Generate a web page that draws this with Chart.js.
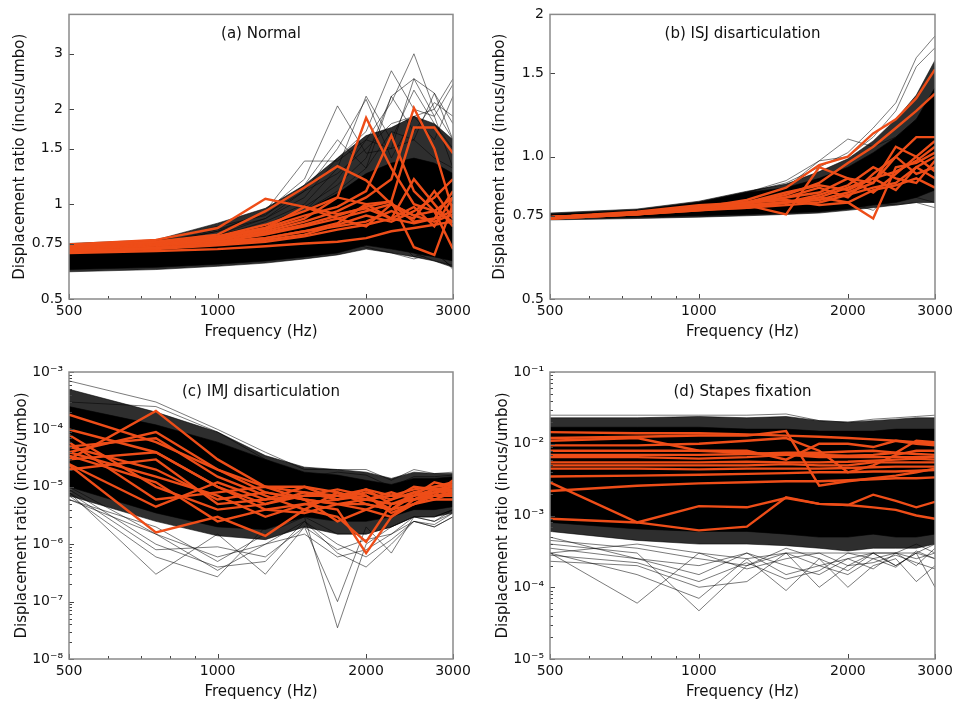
<!DOCTYPE html>
<html>
<head>
<meta charset="utf-8">
<script src="https://cdn.jsdelivr.net/npm/chart.js@4.4.0/dist/chart.umd.min.js"></script>
<style>
    body { margin: 0; background: #fff; width: 958px; height: 702px; position: relative; overflow: hidden; }
    canvas { position: absolute; }
</style>
</head>
<body>
<canvas id="graficoA" width="479" height="351" style="left:0;top:0"></canvas>
<canvas id="graficoB" width="479" height="351" style="left:479px;top:0"></canvas>
<canvas id="graficoC" width="479" height="351" style="left:0;top:351px"></canvas>
<canvas id="graficoD" width="479" height="351" style="left:479px;top:351px"></canvas>
<script>
// frequencies (Hz) shared by every curve
var freqs = [500, 750, 1000, 1250, 1500, 1750, 2000, 2250, 2500, 2750, 3000];
var xTicks = [500, 1000, 2000, 3000];
var xMinorTicks = [600, 700, 800, 900];

// ---- (a) Normal
var aTicks = [0.5, 0.75, 1, 1.5, 2, 3];
var aTickLabels = ['0.5', '0.75', '1', '1.5', '2', '3'];
var aOuterHi = [0.75, 0.77, 0.87, 0.97, 1.15, 1.4, 1.65, 1.75, 1.9, 1.8, 1.6];
var aOuterLo = [0.61, 0.62, 0.635, 0.65, 0.67, 0.69, 0.72, 0.7, 0.68, 0.66, 0.63];
var aCoreHi = [0.74, 0.76, 0.80, 0.86, 0.95, 1.08, 1.25, 1.35, 1.4, 1.35, 1.25];
var aCoreLo = [0.62, 0.63, 0.645, 0.66, 0.68, 0.70, 0.74, 0.72, 0.70, 0.68, 0.66];
var aBlack = [
    [0.72, 0.74, 0.80, 0.95, 1.2, 2.05, 1.45, 1.5, 1.6, 1.4, 1.3],
    [0.70, 0.72, 0.78, 0.85, 0.95, 1.2, 1.6, 2.1, 3.0, 2.0, 1.6],
    [0.73, 0.75, 0.82, 0.9, 1.05, 1.4, 1.7, 2.65, 2.0, 1.9, 2.4],
    [0.72, 0.74, 0.79, 0.88, 1.0, 1.3, 2.2, 1.6, 2.3, 1.8, 1.5],
    [0.71, 0.73, 0.8, 0.9, 1.1, 1.25, 1.5, 1.8, 1.9, 2.0, 2.5],
    [0.73, 0.75, 0.82, 0.95, 1.37, 1.37, 1.6, 1.5, 2.5, 2.25, 1.6],
    [0.69, 0.7, 0.72, 0.75, 0.8, 0.85, 0.9, 0.8, 0.68, 0.72, 0.62],
    [0.65, 0.66, 0.68, 0.7, 0.72, 0.74, 0.8, 0.75, 0.7, 0.66, 0.64],
    [0.74, 0.76, 0.85, 0.92, 1.15, 1.6, 1.3, 2.2, 1.7, 2.1, 1.9],
    [0.72, 0.75, 0.83, 0.93, 1.1, 1.5, 2.15, 1.4, 1.9, 1.6, 2.2],
    [0.71, 0.73, 0.78, 0.86, 0.98, 1.15, 1.4, 2.2, 2.5, 1.9, 1.3],
    [0.7, 0.72, 0.77, 0.84, 0.95, 1.1, 1.3, 1.7, 1.6, 2.25, 1.8],
    [0.66, 0.67, 0.7, 0.72, 0.75, 0.77, 0.73, 0.7, 0.67, 0.7, 0.63]
];
var aOrange = [
    [0.745, 0.77, 0.84, 1.04, 0.98, 0.93, 0.97, 0.9, 0.87, 0.9, 0.95],
    [0.74, 0.76, 0.80, 0.95, 1.13, 1.32, 1.19, 1.0, 0.92, 0.88, 0.93],
    [0.735, 0.755, 0.79, 0.86, 0.95, 1.05, 1.88, 1.3, 1.0, 0.95, 1.05],
    [0.73, 0.75, 0.78, 0.84, 0.92, 0.98, 1.1, 1.65, 1.1, 0.95, 0.88],
    [0.725, 0.745, 0.77, 0.82, 0.88, 0.95, 1.05, 1.2, 2.02, 1.5, 0.95],
    [0.72, 0.74, 0.77, 0.81, 0.86, 0.92, 0.98, 1.02, 1.75, 1.75, 1.45],
    [0.73, 0.75, 0.78, 0.83, 0.9, 1.05, 1.0, 1.02, 0.73, 0.69, 1.0],
    [0.72, 0.74, 0.76, 0.80, 0.85, 0.9, 0.95, 1.0, 0.92, 0.95, 0.72],
    [0.70, 0.71, 0.72, 0.735, 0.75, 0.76, 0.78, 0.82, 0.84, 0.86, 0.88],
    [0.71, 0.725, 0.745, 0.77, 0.80, 0.86, 0.92, 0.88, 0.95, 1.05, 1.2],
    [0.74, 0.76, 0.79, 0.84, 0.98, 0.9, 0.85, 1.0, 0.88, 0.9, 1.1],
    [0.725, 0.74, 0.76, 0.78, 0.82, 0.87, 1.0, 0.9, 1.2, 1.0, 0.85],
    [0.715, 0.73, 0.75, 0.78, 0.82, 0.85, 0.88, 0.95, 0.9, 1.1, 0.9],
    [0.705, 0.72, 0.74, 0.76, 0.79, 0.83, 0.86, 0.9, 0.98, 0.85, 1.05]
];

// ---- (b) ISJ disarticulation
var bTicks = [0.5, 0.75, 1, 1.5, 2];
var bTickLabels = ['0.5', '0.75', '1.0', '1.5', '2'];
var bOuterHi = [0.76, 0.775, 0.805, 0.845, 0.875, 0.93, 0.99, 1.08, 1.2, 1.35, 1.6];
var bOuterLo = [0.735, 0.74, 0.745, 0.75, 0.755, 0.76, 0.77, 0.78, 0.79, 0.80, 0.80];
var bCoreHi = [0.755, 0.77, 0.8, 0.84, 0.86, 0.9, 0.95, 1.02, 1.1, 1.2, 1.4];
var bCoreLo = [0.74, 0.745, 0.75, 0.755, 0.76, 0.765, 0.775, 0.79, 0.8, 0.82, 0.85];
var bBlack = [
    [0.755, 0.77, 0.8, 0.84, 0.88, 0.95, 1.02, 1.15, 1.3, 1.62, 1.8],
    [0.75, 0.765, 0.79, 0.82, 0.86, 0.98, 1.09, 1.05, 1.1, 1.2, 1.3],
    [0.75, 0.765, 0.8, 0.84, 0.89, 0.98, 1.0, 1.1, 1.25, 1.55, 1.7],
    [0.74, 0.75, 0.76, 0.77, 0.78, 0.79, 0.78, 0.8, 0.79, 0.8, 0.78],
    [0.745, 0.755, 0.77, 0.78, 0.8, 0.82, 0.8, 0.77, 0.85, 0.82, 0.8]
];
var bOrange = [
    [0.745, 0.76, 0.78, 0.81, 0.86, 0.96, 1.0, 1.12, 1.2, 1.33, 1.53],
    [0.745, 0.76, 0.785, 0.8, 0.83, 0.88, 0.97, 1.05, 1.15, 1.25, 1.36],
    [0.74, 0.755, 0.78, 0.79, 0.755, 0.95, 0.9, 0.88, 1.0, 1.1, 1.1],
    [0.745, 0.76, 0.775, 0.79, 0.8, 0.82, 0.8, 0.74, 0.95, 0.97, 1.02],
    [0.74, 0.755, 0.77, 0.785, 0.8, 0.82, 0.86, 0.9, 0.93, 0.98, 1.05],
    [0.745, 0.76, 0.78, 0.8, 0.82, 0.86, 0.82, 0.92, 1.0, 0.92, 0.95],
    [0.745, 0.755, 0.775, 0.78, 0.79, 0.8, 0.83, 0.86, 0.88, 0.95, 0.9],
    [0.74, 0.755, 0.77, 0.78, 0.8, 0.83, 0.87, 0.95, 0.9, 0.88, 0.98],
    [0.745, 0.765, 0.79, 0.8, 0.81, 0.79, 0.8, 0.85, 0.87, 0.9, 0.86],
    [0.745, 0.76, 0.78, 0.795, 0.82, 0.84, 0.9, 0.84, 0.92, 1.0, 1.08],
    [0.745, 0.76, 0.775, 0.79, 0.8, 0.81, 0.84, 0.88, 1.05, 1.0, 0.93],
    [0.74, 0.76, 0.78, 0.8, 0.84, 0.87, 0.85, 0.9, 0.85, 0.95, 1.0]
];

// ---- (c) IMJ disarticulation
var cTicks = [1e-8, 1e-7, 1e-6, 1e-5, 1e-4, 1e-3];
var cOuterHi = [5e-4, 2e-4, 9e-5, 3.5e-5, 2.2e-5, 2e-5, 1.8e-5, 1.4e-5, 1.8e-5, 1.7e-5, 1.7e-5];
var cOuterLo = [7e-6, 2.5e-6, 1.4e-6, 1.2e-6, 2e-6, 1.5e-6, 1.5e-6, 2e-6, 3e-6, 3e-6, 3.5e-6];
var cCoreHi = [2.5e-4, 1.2e-4, 6e-5, 3e-5, 1.8e-5, 1.6e-5, 1.3e-5, 1.1e-5, 1.4e-5, 1.4e-5, 1.5e-5];
var cCoreLo = [1e-5, 3.5e-6, 2e-6, 1.8e-6, 3e-6, 2.5e-6, 2.5e-6, 3e-6, 4e-6, 4e-6, 4.5e-6];
var cBlack = [
    [6e-6, 2e-6, 5e-7, 1.5e-6, 3e-6, 1.5e-6, 1.5e-6, 2e-6, 3e-6, 3e-6, 4e-6],
    [8e-6, 3e-7, 1.5e-6, 3e-7, 2e-6, 1e-7, 2e-6, 7e-7, 3e-6, 2.5e-6, 4e-6],
    [7e-6, 6e-7, 2.7e-7, 2e-6, 3e-6, 3.5e-8, 1e-6, 2e-6, 3e-6, 3e-6, 4e-6],
    [9e-6, 1e-6, 4e-7, 5e-7, 2.5e-6, 7e-7, 4e-7, 1e-6, 2.5e-6, 2.2e-6, 3.5e-6],
    [7e-4, 3e-4, 1e-4, 4e-5, 2e-5, 2e-5, 2e-5, 1.3e-5, 2e-5, 1.7e-5, 1.8e-5],
    [3e-4, 2.5e-4, 9e-5, 3e-5, 1.5e-5, 1.8e-5, 1.6e-5, 1e-5, 1.5e-5, 1.5e-5, 1.6e-5],
    [1e-5, 1.5e-6, 6e-7, 1e-6, 1.5e-6, 6e-7, 8e-7, 1.5e-6, 2.5e-6, 2e-6, 3e-6],
    [8e-6, 8e-7, 9e-7, 6e-7, 2e-6, 8e-7, 1.2e-6, 1.5e-6, 3e-6, 2.5e-6, 3.5e-6],
    [6e-6, 1.5e-6, 3.5e-7, 1e-6, 2.5e-6, 1e-6, 6e-7, 1.2e-6, 2.5e-6, 2e-6, 3e-6]
];
var cOrange = [
    [1.8e-4, 6e-5, 2e-5, 1e-5, 8e-6, 7e-6, 6e-6, 5e-6, 7e-6, 8e-6, 9e-6],
    [3e-5, 2.1e-4, 3e-5, 1e-5, 1e-5, 6e-6, 7e-6, 4e-6, 8e-6, 1e-5, 1.2e-5],
    [2.4e-5, 1.6e-6, 3e-6, 1.4e-6, 4e-6, 3e-6, 1.1e-6, 5e-6, 6e-6, 8e-6, 1e-5],
    [4e-5, 9e-5, 2e-5, 8e-6, 6e-6, 5e-6, 4e-6, 3e-6, 6e-6, 7e-6, 8e-6],
    [5e-5, 7e-5, 1.5e-5, 7e-6, 4e-6, 8e-6, 5e-6, 4e-6, 7e-6, 9e-6, 1e-5],
    [1e-4, 4e-5, 1e-5, 5e-6, 8e-6, 6e-6, 9e-6, 5e-6, 6e-6, 7e-6, 7e-6],
    [2e-5, 3e-5, 5e-6, 6e-6, 1e-5, 8e-6, 6e-6, 7e-6, 9e-6, 1e-5, 1.1e-5],
    [3.5e-5, 1.2e-5, 2.5e-6, 4e-6, 5e-6, 4e-6, 7e-7, 3e-6, 5e-6, 6e-6, 6e-6],
    [6e-5, 6e-6, 8e-6, 1e-5, 6e-6, 2.5e-6, 4e-6, 6e-6, 8e-6, 6e-6, 8e-6],
    [2.5e-5, 4.5e-6, 1.2e-5, 6e-6, 7e-6, 9e-6, 7e-6, 3.5e-6, 5e-6, 7e-6, 1.3e-5],
    [4e-5, 1.5e-5, 7e-6, 3e-6, 5e-6, 6e-6, 8e-6, 6e-6, 1e-5, 9e-6, 7e-6],
    [3e-5, 4e-5, 1e-5, 4e-6, 3.5e-6, 5e-6, 5e-6, 4e-6, 5e-6, 8e-6, 9e-6],
    [5e-5, 2e-5, 6e-6, 8e-6, 6e-6, 5e-6, 6e-6, 8e-6, 6e-6, 9e-6, 8e-6],
    [8e-5, 1e-5, 4e-6, 5e-6, 7e-6, 7e-6, 9e-6, 7e-6, 7e-6, 1.2e-5, 1e-5]
];

// ---- (d) Stapes fixation
var dTicks = [1e-5, 1e-4, 1e-3, 1e-2, 1e-1];
var dOuterHi = [2.3e-2, 2.3e-2, 2.4e-2, 2.3e-2, 2.4e-2, 2.1e-2, 2e-2, 2.1e-2, 2.2e-2, 2.3e-2, 2.3e-2];
var dOuterLo = [6e-4, 4.5e-4, 4e-4, 4e-4, 3.8e-4, 3.5e-4, 3.2e-4, 3.5e-4, 3.5e-4, 3.5e-4, 4e-4];
var dCoreHi = [1.7e-2, 1.7e-2, 1.7e-2, 1.6e-2, 1.6e-2, 1.5e-2, 1.5e-2, 1.5e-2, 1.6e-2, 1.6e-2, 1.6e-2];
var dCoreLo = [8e-4, 6.5e-4, 6e-4, 6e-4, 5.5e-4, 5e-4, 5e-4, 5.5e-4, 5e-4, 5e-4, 5.5e-4];
var dBlack = [
    [3e-4, 6e-5, 3e-4, 2.5e-4, 3e-4, 2e-4, 2.5e-4, 3e-4, 3e-4, 4e-4, 3e-4],
    [4e-4, 3e-4, 4.7e-5, 2e-4, 3e-4, 3e-4, 3e-4, 3e-4, 3e-4, 3e-4, 4e-4],
    [3e-4, 1.5e-4, 7e-5, 2.5e-4, 9e-5, 2.5e-4, 1e-4, 2e-4, 2.5e-4, 1.2e-4, 2e-4],
    [2.3e-4, 2e-4, 1e-4, 1.2e-4, 3e-4, 1e-4, 2e-4, 3e-4, 2e-4, 3e-4, 1e-4],
    [5e-4, 2.5e-4, 2e-4, 3e-4, 1.5e-4, 2e-4, 1.5e-4, 2.5e-4, 3e-4, 2.5e-4, 3e-4],
    [2.5e-2, 2.5e-2, 2.5e-2, 2.5e-2, 2.6e-2, 2.1e-2, 2e-2, 2.2e-2, 2.3e-2, 2.4e-2, 2.5e-2],
    [3.5e-4, 2.5e-4, 1.5e-4, 3e-4, 2e-4, 1.5e-4, 2.5e-4, 1.8e-4, 3e-4, 2e-4, 3.5e-4],
    [4.5e-4, 3.5e-4, 2.5e-4, 2e-4, 3.5e-4, 2.5e-4, 1.7e-4, 3e-4, 2e-4, 3e-4, 2.5e-4],
    [3e-4, 4e-4, 3e-4, 1.8e-4, 2.5e-4, 3e-4, 2e-4, 2.2e-4, 2.8e-4, 2.2e-4, 1.8e-4],
    [2.8e-4, 2.2e-4, 1.2e-4, 2.2e-4, 1.3e-4, 1.7e-4, 3e-4, 2.5e-4, 1.9e-4, 3.2e-4, 2.5e-4]
];
var dOrange = [
    [2.9e-3, 8e-4, 6.2e-4, 7e-4, 1.8e-3, 1.45e-3, 1.4e-3, 1.3e-3, 1.2e-3, 1.0e-3, 9e-4],
    [9e-4, 8e-4, 1.35e-3, 1.3e-3, 1.75e-3, 1.45e-3, 1.4e-3, 1.95e-3, 1.6e-3, 1.3e-3, 1.55e-3],
    [2.2e-3, 2.6e-3, 2.8e-3, 2.9e-3, 3e-3, 3e-3, 3.1e-3, 3.2e-3, 3.3e-3, 3.3e-3, 3.4e-3],
    [3.5e-3, 3.6e-3, 3.7e-3, 3.8e-3, 3.9e-3, 4e-3, 4e-3, 4.1e-3, 4.1e-3, 4.2e-3, 4.3e-3],
    [1.2e-2, 1.25e-2, 1.3e-2, 1.3e-2, 1.5e-2, 2.6e-3, 3e-3, 3.3e-3, 3.6e-3, 4e-3, 4.5e-3],
    [1.45e-2, 1.4e-2, 1.4e-2, 1.35e-2, 1.3e-2, 1.25e-2, 1.2e-2, 1.15e-2, 1.1e-2, 1.05e-2, 1.0e-2],
    [1.1e-2, 1.2e-2, 8e-3, 7.5e-3, 7e-3, 6.5e-3, 6.5e-3, 6.5e-3, 6.5e-3, 6.5e-3, 6.5e-3],
    [8e-3, 8e-3, 8e-3, 8e-3, 6e-3, 1e-2, 1e-2, 9e-3, 1.1e-2, 1e-2, 9.5e-3],
    [6.5e-3, 6.5e-3, 6.2e-3, 6.5e-3, 7e-3, 7e-3, 6.8e-3, 7e-3, 7.5e-3, 1.1e-2, 1.05e-2],
    [5.5e-3, 5.5e-3, 5.5e-3, 5.6e-3, 5.5e-3, 5.5e-3, 5.6e-3, 5.8e-3, 6e-3, 6.2e-3, 6e-3],
    [5e-3, 5e-3, 5e-3, 5e-3, 5.2e-3, 5e-3, 5e-3, 5.5e-3, 5.5e-3, 5.5e-3, 5.5e-3],
    [4.5e-3, 4.5e-3, 4.4e-3, 4.5e-3, 4.5e-3, 4.5e-3, 4.6e-3, 4.7e-3, 4.8e-3, 4.8e-3, 4.8e-3],
    [9.5e-3, 9.5e-3, 1e-2, 1.1e-2, 1.2e-2, 8e-3, 4e-3, 5e-3, 7e-3, 8e-3, 8e-3],
    [7e-3, 7e-3, 7e-3, 7.2e-3, 7.5e-3, 7.5e-3, 7.8e-3, 8e-3, 7.5e-3, 7.2e-3, 7e-3]
];

var FONTE = 'DejaVu Sans, sans-serif';
var LARANJA = '#ee4d18';

function pontos(valores) {
    return valores.map(function (v, i) { return { x: freqs[i], y: v }; });
}

function minorDecades(ticks) {
    var lista = [];
    for (var i = 0; i < ticks.length - 1; i++) {
        for (var k = 2; k <= 9; k++) lista.push(ticks[i] * k);
    }
    return lista;
}

var SUP = { '-': '\u207B', '0': '\u2070', '1': '\u00B9', '2': '\u00B2', '3': '\u00B3', '4': '\u2074', '5': '\u2075', '6': '\u2076', '7': '\u2077', '8': '\u2078', '9': '\u2079' };
function potencia(v) {
    var e = String(Math.round(Math.log10(v)));
    return '10' + e.split('').map(function (c) { return SUP[c]; }).join('');
}

// frame, inward ticks and panel title inside the plot area
var moldura = {
    id: 'moldura',
    afterDraw: function (chart) {
        var o = chart.options.plugins.moldura;
        var a = chart.chartArea;
        var ctx = chart.ctx;
        var sx = chart.scales.x, sy = chart.scales.y;
        ctx.save();
        ctx.strokeStyle = '#444';
        ctx.lineWidth = 1;
        xTicks.forEach(function (v) {
            var px = Math.round(sx.getPixelForValue(v)) + 0.5;
            ctx.beginPath(); ctx.moveTo(px, a.bottom); ctx.lineTo(px, a.bottom - 5); ctx.stroke();
        });
        xMinorTicks.forEach(function (v) {
            var px = Math.round(sx.getPixelForValue(v)) + 0.5;
            ctx.beginPath(); ctx.moveTo(px, a.bottom); ctx.lineTo(px, a.bottom - 3); ctx.stroke();
        });
        o.yTicks.forEach(function (v) {
            var py = Math.round(sy.getPixelForValue(v)) + 0.5;
            ctx.beginPath(); ctx.moveTo(a.left, py); ctx.lineTo(a.left + 5, py); ctx.stroke();
        });
        o.yMinor.forEach(function (v) {
            var py = Math.round(sy.getPixelForValue(v)) + 0.5;
            ctx.beginPath(); ctx.moveTo(a.left, py); ctx.lineTo(a.left + 3, py); ctx.stroke();
        });
        ctx.strokeStyle = '#8a8a8a';
        ctx.lineWidth = 1.5;
        ctx.strokeRect(a.left, a.top, a.right - a.left, a.bottom - a.top);
        ctx.fillStyle = '#111';
        ctx.font = '15px ' + FONTE;
        ctx.textAlign = 'center';
        ctx.textBaseline = 'middle';
        ctx.fillText(o.titulo, (a.left + a.right) / 2, a.top + 20);
        ctx.restore();
    }
};

function criarGrafico(id, cfg) {
    var datasets = [];
    cfg.orange.forEach(function (serie) {
        datasets.push({ data: pontos(serie), borderColor: LARANJA, borderWidth: 2.4, fill: false, order: 1 });
    });
    cfg.black.forEach(function (serie) {
        datasets.push({ data: pontos(serie), borderColor: 'rgba(0,0,0,0.75)', borderWidth: 0.7, fill: false, order: 2 });
    });
    datasets.push({ data: pontos(cfg.coreHi), borderColor: '#000', borderWidth: 0.6, backgroundColor: '#000', fill: '+1', order: 3 });
    datasets.push({ data: pontos(cfg.coreLo), borderColor: '#000', borderWidth: 0.6, fill: false, order: 3 });
    datasets.push({ data: pontos(cfg.outerHi), borderColor: 'rgba(0,0,0,0.8)', borderWidth: 0.7, backgroundColor: 'rgba(0,0,0,0.82)', fill: '+1', order: 4 });
    datasets.push({ data: pontos(cfg.outerLo), borderColor: 'rgba(0,0,0,0.8)', borderWidth: 0.7, fill: false, order: 4 });

    return new Chart(document.getElementById(id), {
        type: 'line',
        data: { datasets: datasets },
        plugins: [moldura],
        options: {
            responsive: false,
            animation: false,
            layout: { padding: cfg.padding },
            elements: { point: { radius: 0 }, line: { tension: 0 } },
            plugins: {
                legend: { display: false },
                tooltip: { enabled: false },
                moldura: { titulo: cfg.titulo, yTicks: cfg.yTicks, yMinor: cfg.yMinor }
            },
            scales: {
                x: {
                    type: 'logarithmic',
                    min: 500,
                    max: 3000,
                    grid: { display: false, drawTicks: false },
                    border: { display: false },
                    afterFit: function (scale) { scale.height = cfg.xHeight; },
                    afterBuildTicks: function (scale) {
                        scale.ticks = xTicks.map(function (v) { return { value: v }; });
                    },
                    ticks: {
                        color: '#111',
                        padding: 4,
                        maxRotation: 0,
                        autoSkip: false,
                        font: { family: FONTE, size: 14 },
                        callback: function (v) { return String(v); }
                    },
                    title: {
                        display: true,
                        text: 'Frequency (Hz)',
                        color: '#111',
                        font: { family: FONTE, size: 15 },
                        padding: { top: 0, bottom: cfg.xTitlePad }
                    }
                },
                y: {
                    type: 'logarithmic',
                    min: cfg.yMin,
                    max: cfg.yMax,
                    grid: { display: false, drawTicks: false },
                    border: { display: false },
                    afterFit: function (scale) { scale.width = cfg.yWidth; },
                    afterBuildTicks: function (scale) {
                        scale.ticks = cfg.yTicks.map(function (v) { return { value: v }; });
                    },
                    ticks: {
                        color: '#111',
                        padding: 6,
                        autoSkip: false,
                        font: { family: FONTE, size: 14 },
                        callback: function (v, i) { return cfg.yLabels ? cfg.yLabels[i] : potencia(v); }
                    },
                    title: {
                        display: true,
                        text: 'Displacement ratio (incus/umbo)',
                        color: '#111',
                        font: { family: FONTE, size: 15 },
                        padding: { top: cfg.yTitlePad, bottom: 0 }
                    }
                }
            }
        }
    });
}

var graficoA = criarGrafico('graficoA', {
    titulo: '(a) Normal',
    orange: aOrange, black: aBlack,
    coreHi: aCoreHi, coreLo: aCoreLo, outerHi: aOuterHi, outerLo: aOuterLo,
    yMin: 0.5, yMax: 4, yTicks: aTicks, yLabels: aTickLabels, yMinor: [],
    padding: { left: 0, top: 12, right: 26, bottom: 0 },
    yWidth: 69, xHeight: 52, xTitlePad: 10, yTitlePad: 11
});

var graficoB = criarGrafico('graficoB', {
    titulo: '(b) ISJ disarticulation',
    orange: bOrange, black: bBlack,
    coreHi: bCoreHi, coreLo: bCoreLo, outerHi: bOuterHi, outerLo: bOuterLo,
    yMin: 0.5, yMax: 2, yTicks: bTicks, yLabels: bTickLabels, yMinor: [],
    padding: { left: 0, top: 12, right: 23, bottom: 0 },
    yWidth: 71, xHeight: 52, xTitlePad: 10, yTitlePad: 12
});

var graficoC = criarGrafico('graficoC', {
    titulo: '(c) IMJ disarticulation',
    orange: cOrange, black: cBlack,
    coreHi: cCoreHi, coreLo: cCoreLo, outerHi: cOuterHi, outerLo: cOuterLo,
    yMin: 1e-8, yMax: 1e-3, yTicks: cTicks, yLabels: null, yMinor: minorDecades(cTicks),
    padding: { left: 0, top: 21, right: 26, bottom: 0 },
    yWidth: 69, xHeight: 43, xTitlePad: 1, yTitlePad: 13
});

var graficoD = criarGrafico('graficoD', {
    titulo: '(d) Stapes fixation',
    orange: dOrange, black: dBlack,
    coreHi: dCoreHi, coreLo: dCoreLo, outerHi: dOuterHi, outerLo: dOuterLo,
    yMin: 1e-5, yMax: 1e-1, yTicks: dTicks, yLabels: null, yMinor: minorDecades(dTicks),
    padding: { left: 0, top: 21, right: 23, bottom: 0 },
    yWidth: 71, xHeight: 43, xTitlePad: 1, yTitlePad: 15
});
</script>
</body>
</html>
